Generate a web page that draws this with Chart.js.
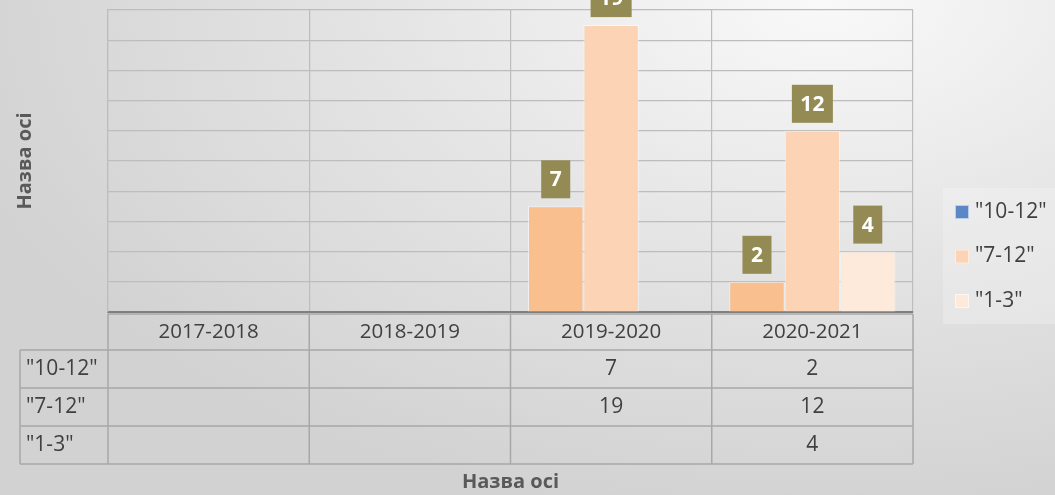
<!DOCTYPE html>
<html>
<head>
<meta charset="utf-8">
<script src="https://cdn.jsdelivr.net/npm/chart.js@4.4.0/dist/chart.umd.min.js"></script>
<style>
    html, body { margin: 0; padding: 0; }
    body {
        width: 1055px;
        height: 495px;
        overflow: hidden;
        background: radial-gradient(ellipse 900px 520px at 78% 0%, #f9f9f9 0%, #e6e6e6 45%, #d2d2d2 100%);
    }
    #c { display: block; }
</style>
</head>
<body>
<canvas id="c" width="1055" height="495"></canvas>
<script>
// Chart data
const categories = ['2017-2018', '2018-2019', '2019-2020', '2020-2021'];
const seriesNames = ['"10-12"', '"7-12"', '"1-3"'];
const values1012 = [null, null, 7, 2];
const values712 = [null, null, 19, 12];
const values13 = [null, null, null, 4];
const yMax = 20;
const yStep = 2;
const axisTitle = 'Назва осі';

const barColors = ['#F9BF8F', '#FCD4B5', '#FDEADB'];
const legendColors = ['#5B87C6', '#FCD4B5', '#FDEADB'];
const fontFamily = '"Open Sans", "DejaVu Sans", sans-serif';
const textColor = '#404040';
const tableLine = '#A8A8A8';

/**
 * Draws the value labels, the data table, axis titles and legend the Excel way.
 */
const excelExtras = {
    id: 'excelExtras',
    afterDraw(chart) {
        const ctx = chart.ctx;
        const area = chart.chartArea;
        const xs = chart.scales.x;
        const colW = (xs.right - xs.left) / categories.length;
        const sets = chart.data.datasets;

        ctx.save();

        // Value labels on olive boxes
        ctx.font = 'bold 21px ' + fontFamily;
        ctx.textAlign = 'center';
        ctx.textBaseline = 'middle';
        sets.forEach((ds, i) => {
            const meta = chart.getDatasetMeta(i);
            meta.data.forEach((bar, j) => {
                const v = ds.data[j];
                if (v === null || v === undefined) return;
                const label = String(v);
                const w = ctx.measureText(label).width + 17;
                const h = 38;
                const bx = bar.x - w / 2;
                const by = bar.y - 8 - h;
                ctx.fillStyle = '#948A54';
                ctx.fillRect(bx, by, w, h);
                ctx.fillStyle = '#FFFFFF';
                ctx.fillText(label, bar.x, by + h / 2 + 1);
            });
        });

        // Data table
        const top = area.bottom + 2;
        const headH = 36;
        const rowH = 38;
        const tableLeft = 20;
        const bottom = top + headH + rowH * sets.length;

        ctx.strokeStyle = tableLine;
        ctx.lineWidth = 1.5;
        ctx.beginPath();
        ctx.moveTo(xs.left, top); ctx.lineTo(xs.right, top);
        for (let r = 0; r <= sets.length; r++) {
            const y = top + headH + r * rowH;
            ctx.moveTo(tableLeft, y); ctx.lineTo(xs.right, y);
        }
        ctx.moveTo(tableLeft, top + headH); ctx.lineTo(tableLeft, bottom);
        for (let c = 0; c <= categories.length; c++) {
            const x = xs.left + c * colW;
            ctx.moveTo(x, top); ctx.lineTo(x, bottom);
        }
        ctx.stroke();

        ctx.font = '20.5px ' + fontFamily;
        ctx.fillStyle = textColor;
        ctx.textAlign = 'center';
        categories.forEach((cat, j) => {
            ctx.fillText(cat, xs.getPixelForValue(j), top + headH / 2);
        });
        ctx.font = '21px ' + fontFamily;
        sets.forEach((ds, i) => {
            const y = top + headH + i * rowH + rowH / 2;
            ctx.textAlign = 'left';
            ctx.fillText(ds.label, tableLeft + 6, y);
            ctx.textAlign = 'center';
            ds.data.forEach((v, j) => {
                if (v === null || v === undefined) return;
                ctx.fillText(String(v), xs.getPixelForValue(j), y);
            });
        });

        // Axis titles
        ctx.font = 'bold 20px ' + fontFamily;
        ctx.fillStyle = '#595959';
        ctx.textAlign = 'center';
        ctx.fillText(axisTitle, (xs.left + xs.right) / 2, 482);
        ctx.save();
        ctx.translate(25, (area.top + area.bottom) / 2);
        ctx.rotate(-Math.PI / 2);
        ctx.fillText(axisTitle, 0, 0);
        ctx.restore();

        // Legend
        ctx.fillStyle = 'rgba(255,255,255,0.22)';
        ctx.fillRect(943, 188, 112, 136);
        ctx.font = '21px ' + fontFamily;
        ctx.textAlign = 'left';
        sets.forEach((ds, i) => {
            const cy = 212 + i * 44.5;
            ctx.fillStyle = legendColors[i];
            ctx.fillRect(955, cy - 7, 14, 14);
            ctx.strokeStyle = 'rgba(255,255,255,0.6)';
            ctx.lineWidth = 1;
            ctx.strokeRect(955.5, cy - 6.5, 13, 13);
            ctx.fillStyle = textColor;
            ctx.fillText(ds.label, 975, cy);
        });

        ctx.restore();
    }
};

new Chart(document.getElementById('c'), {
    type: 'bar',
    data: {
        labels: categories,
        datasets: [
            { label: seriesNames[0], data: values1012, backgroundColor: barColors[0] },
            { label: seriesNames[1], data: values712, backgroundColor: barColors[1] },
            { label: seriesNames[2], data: values13, backgroundColor: barColors[2] }
        ].map(ds => Object.assign(ds, {
            borderColor: 'rgba(255,255,255,0.55)',
            borderWidth: 1,
            categoryPercentage: 0.826,
            barPercentage: 1
        }))
    },
    options: {
        responsive: false,
        animation: false,
        layout: { padding: { left: 108, right: 142, top: 10, bottom: 183 } },
        plugins: {
            legend: { display: false },
            tooltip: { enabled: false }
        },
        scales: {
            x: {
                ticks: { display: false },
                grid: { color: '#BDBDBD', lineWidth: 1.2, drawTicks: false, offset: true },
                border: { color: '#7F7F7F', width: 2 }
            },
            y: {
                min: 0,
                max: yMax,
                ticks: { display: false, stepSize: yStep },
                grid: { color: '#BDBDBD', lineWidth: 1.2, drawTicks: false },
                border: { color: '#BDBDBD', width: 1.2 }
            }
        }
    },
    plugins: [excelExtras]
});
</script>
</body>
</html>
